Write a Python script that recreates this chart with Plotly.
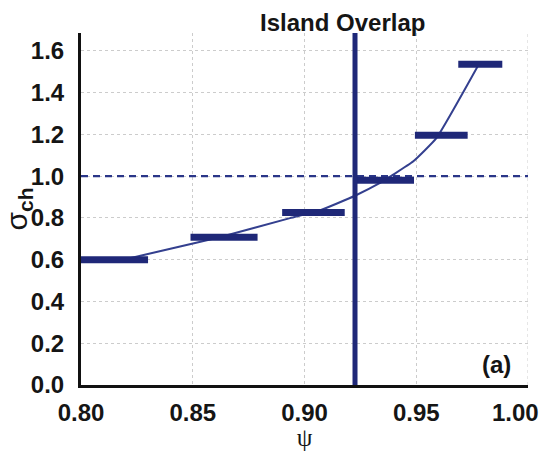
import plotly.graph_objects as go

# Horizontal bin segments
seg_x0 = [0.800, 0.849, 0.890, 0.9226, 0.9494, 0.9688]
seg_x1 = [0.830, 0.879, 0.918, 0.949, 0.973, 0.9885]
seg_y = [0.600, 0.707, 0.826, 0.980, 1.196, 1.535]

# Smooth curve
curve_x = [0.819, 0.840, 0.862, 0.8935, 0.9069, 0.9226, 0.9338, 0.9397, 0.9487, 0.9591, 0.978]
curve_y = [0.600, 0.652, 0.707, 0.799, 0.836, 0.906, 0.967, 1.007, 1.071, 1.183, 1.535]

overlap_x = 0.9226
ref_y = 1.0
x_ticks = [0.80, 0.85, 0.90, 0.95, 1.00]
x_ticktext = ["0.80", "0.85", "0.90", "0.95", "1.00"]
y_ticks = [0.0, 0.2, 0.4, 0.6, 0.8, 1.0, 1.2, 1.4, 1.6]
y_ticktext = ["0.0", "0.2", "0.4", "0.6", "0.8", "1.0", "1.2", "1.4", "1.6"]

NAVY = "#1f2878"
FONT = "Liberation Sans, Arial, sans-serif"

fig = go.Figure()

# dashed reference line
fig.add_trace(go.Scatter(x=[x_ticks[0], x_ticks[-1]], y=[ref_y, ref_y], mode="lines",
                         line=dict(color="#2a3688", width=2.2, dash="7px,5px"),
                         showlegend=False, hoverinfo="skip"))

# curve
fig.add_trace(go.Scatter(x=curve_x, y=curve_y, mode="lines",
                         line=dict(color="#34408f", width=2, shape="spline", smoothing=0.4),
                         showlegend=False, hoverinfo="skip"))

# segments
sx, sy = [], []
for a, b, v in zip(seg_x0, seg_x1, seg_y):
    sx += [a, b, None]
    sy += [v, v, None]
fig.add_trace(go.Scatter(x=sx, y=sy, mode="lines",
                         line=dict(color=NAVY, width=7),
                         showlegend=False, hoverinfo="skip"))

# vertical island overlap line
fig.add_trace(go.Scatter(x=[overlap_x, overlap_x], y=[0, 1.69], mode="lines",
                         line=dict(color=NAVY, width=5),
                         showlegend=False, hoverinfo="skip", cliponaxis=False))

fig.add_annotation(text="<b>Island Overlap</b>", xref="paper", yref="paper",
                   x=0.586, y=1.031, xanchor="center", yanchor="middle", showarrow=False,
                   font=dict(family=FONT, size=24, color="#151515"))
fig.add_annotation(text="<b>(a)</b>", xref="paper", yref="paper",
                   x=0.93, y=0.057, xanchor="center", yanchor="middle", showarrow=False,
                   font=dict(family=FONT, size=24, color="#151515"))
# last x tick label, kept inside the page edge
fig.add_annotation(text=f"<b>{x_ticktext[-1]}</b>", xref="paper", yref="paper",
                   x=1.03, y=-0.077, xanchor="right", yanchor="middle", showarrow=False,
                   font=dict(family=FONT, size=24, color="#151515"))

fig.update_layout(
    width=546, height=451,
    margin=dict(l=81, r=18, t=33, b=66),
    paper_bgcolor="white", plot_bgcolor="white",
    font=dict(family=FONT, size=24, color="#151515"),
    xaxis=dict(range=[0.80, 1.00], tickvals=x_ticks[:-1], ticktext=[f"<b>{t}</b>" for t in x_ticktext[:-1]],
               showgrid=True, gridcolor="#cccccc", griddash="dot", gridwidth=1,
               showline=True, linecolor="#111", linewidth=3, zeroline=False, automargin=False,
               ticks="", ticklabelstandoff=4,
               title=dict(text="ψ", font=dict(family="Liberation Serif, serif", size=25, color="#151515"), standoff=7)),
    yaxis=dict(range=[0, 1.685], tickvals=y_ticks, ticktext=[f"<b>{t}</b>" for t in y_ticktext],
               showgrid=True, gridcolor="#cccccc", griddash="dot", gridwidth=1,
               showline=True, linecolor="#111", linewidth=3, zeroline=False, automargin=False,
               ticks="", ticklabelstandoff=9, ticklabeloverflow="allow",
               title=dict(text="σ<sub><b>ch</b></sub>", font=dict(family=FONT, size=30, color="#151515"), standoff=6)),
    shapes=[dict(type="line", xref="x", yref="paper", x0=x_ticks[-1], x1=x_ticks[-1], y0=0, y1=1,
                 line=dict(color="#cccccc", width=1, dash="dot"), layer="below")],
)

fig.write_html("out.html")
